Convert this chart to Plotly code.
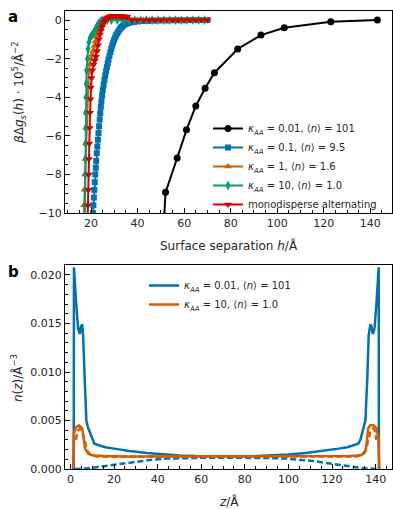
import plotly.graph_objects as go

# ---- panel a: free energy vs surface separation ----
h_k001 = [49.0, 52.0, 57.0, 61.0, 65.0, 69.0, 73.0, 83.0, 93.0, 103.0, 123.0, 143.0]
g_k001 = [-15.5, -8.93, -7.15, -5.69, -4.45, -3.53, -2.73, -1.50, -0.78, -0.40, -0.09, 0.0]

h_k01 = [20.6, 20.8, 21.0, 21.2, 21.4, 21.6, 21.8, 22.0, 22.2, 22.45, 22.7, 22.95, 23.2, 23.45,
         23.7, 23.95, 24.2, 24.45, 24.75, 25.05, 25.4, 25.75, 26.1, 26.45, 26.8, 27.15, 27.5,
         27.9, 28.3, 28.7, 29.1, 29.5, 29.9, 30.35, 30.8, 31.3, 31.8, 32.3, 32.8, 33.3, 33.8,
         34.4, 35.0, 35.7, 36.5, 37.5, 38.5, 40.0, 42.5, 45.0, 47.5, 50.0, 52.5, 55.0, 57.5,
         60.0, 62.5, 65.0, 67.5, 70.0]
g_k01 = [-10.4, -10.0, -9.6, -9.2, -8.8, -8.4, -8.0, -7.65, -7.3, -6.9, -6.55, -6.2, -5.85, -5.5,
         -5.15, -4.82, -4.5, -4.2, -3.9, -3.62, -3.35, -3.1, -2.87, -2.65, -2.44, -2.24, -2.05,
         -1.85, -1.66, -1.48, -1.32, -1.17, -1.03, -0.90, -0.78, -0.67, -0.57, -0.48, -0.40,
         -0.34, -0.28, -0.23, -0.19, -0.16, -0.13, -0.11, -0.09, -0.07, -0.05, -0.04, -0.03,
         -0.02, -0.02, -0.01, -0.01, -0.01, 0.0, 0.0, 0.0, 0.0]

h_k1 = [16.8, 17.0, 17.2, 17.4, 17.6, 17.8, 18.0, 18.2, 18.4, 18.7, 19.0, 19.4, 19.9, 20.4,
        20.9, 21.4, 21.9, 22.4, 22.9, 23.4, 23.9, 24.4, 24.9, 25.5, 26.5, 27.5, 28.5, 30.0,
        32.5, 35.0, 37.5, 40.0, 42.5, 45.0, 47.5, 50.0, 52.5, 55.0, 57.5, 60.0, 62.5, 65.0,
        67.5, 70.0]
g_k1 = [-10.4, -9.6, -8.8, -8.0, -7.2, -6.4, -5.6, -4.8, -4.0, -3.3, -2.7, -2.3, -2.0, -1.8,
        -1.6, -1.35, -1.1, -0.85, -0.62, -0.42, -0.27, -0.15, -0.06, 0.0, 0.03, 0.04, 0.04,
        0.03, 0.02, 0.01, 0.0, 0.0, 0.0, 0.0, 0.0, 0.0, 0.0, 0.0, 0.0, 0.0, 0.0, 0.0, 0.0, 0.0]

h_k10 = [17.3, 17.35, 17.4, 17.45, 17.5, 17.6, 17.65, 17.7, 17.8, 17.9, 18.1, 18.4, 18.7, 19.1,
         19.5, 19.9, 20.3, 20.7, 21.1, 21.5, 22.0, 22.5, 23.0, 23.5, 24.0, 24.5, 25.0, 26.0,
         27.0, 28.75, 31.25, 33.75, 36.25, 38.75, 41.25, 43.75, 46.25, 48.75, 51.25, 53.75,
         56.25, 58.75, 61.25, 63.75, 66.25, 68.75]
g_k10 = [-10.4, -9.6, -8.8, -8.0, -7.2, -6.4, -5.6, -4.8, -4.0, -3.3, -2.6, -2.0, -1.5, -1.15,
         -0.95, -0.85, -0.8, -0.75, -0.68, -0.58, -0.45, -0.33, -0.23, -0.15, -0.09, -0.05,
         -0.02, 0.0, 0.0, 0.0, 0.0, 0.0, 0.0, 0.0, 0.0, 0.0, 0.0, 0.0, 0.0, 0.0, 0.0, 0.0,
         0.0, 0.0, 0.0, 0.0]

h_mono = [18.5, 18.7, 18.85, 19.0, 19.1, 19.25, 19.4, 19.55, 19.7, 19.9, 20.2, 20.6, 21.1, 21.6,
          22.1, 22.6, 23.0, 23.4, 23.8, 24.2, 24.6, 25.0, 25.5, 26.0, 26.5, 27.0, 27.5, 28.0,
          28.5, 29.0, 29.5, 30.0, 30.5, 31.0, 31.5, 32.0, 32.5, 33.0, 33.5, 34.0, 34.5, 35.0,
          35.5, 37.5, 40.0, 42.5, 45.0, 47.5, 50.0, 52.5, 55.0, 57.5, 60.0, 62.5, 65.0, 67.5,
          70.0]
g_mono = [-10.4, -9.6, -8.8, -8.0, -7.2, -6.4, -5.6, -4.8, -4.1, -3.5, -3.0, -2.6, -2.3, -2.1,
          -1.9, -1.6, -1.3, -1.0, -0.75, -0.55, -0.38, -0.25, -0.12, -0.02, 0.06, 0.11, 0.15,
          0.18, 0.20, 0.21, 0.22, 0.22, 0.22, 0.22, 0.21, 0.21, 0.20, 0.20, 0.19, 0.19, 0.18,
          0.18, 0.17, 0.0, 0.0, 0.0, 0.0, 0.0, 0.0, 0.0, 0.0, 0.0, 0.0, 0.0, 0.0, 0.0, 0.0]

# ---- panel b: density profiles ----
z_b1 = [1.5, 1.6, 2.5, 3.5, 4.3, 4.8, 5.4, 5.8, 6.5, 7.3, 8.0, 9.0, 10.0, 11.0, 13.0, 16.0,
        20.0, 27.0, 35.0, 43.0, 50.0, 58.0, 65.0, 71.5, 78.0, 85.0, 93.0, 100.0, 108.0, 116.0,
        123.0, 127.0, 130.0, 132.0, 133.0, 133.7, 134.5, 135.3, 136.2, 136.8, 137.6, 138.1,
        138.7, 139.5, 140.5, 141.4, 141.5]
n_b1 = [0.0, 0.0208, 0.0175, 0.0145, 0.0139, 0.0147, 0.0149, 0.0138, 0.0095, 0.0050, 0.0043,
        0.0037, 0.0030, 0.0026, 0.00245, 0.00225, 0.0021, 0.00185, 0.00165, 0.0015, 0.0014,
        0.00133, 0.0013, 0.00128, 0.0013, 0.00133, 0.0014, 0.0015, 0.00165, 0.00185, 0.0021,
        0.00225, 0.00245, 0.0026, 0.0030, 0.0037, 0.0043, 0.0050, 0.0095, 0.0138, 0.0149,
        0.0147, 0.0139, 0.0145, 0.0175, 0.0208, 0.0]

z_b1d = [2.0, 8.0, 14.0, 19.0, 25.0, 31.5, 38.0, 44.0, 50.0, 57.0, 64.0, 71.5, 79.0, 86.0,
         93.0, 99.0, 105.0, 111.5, 118.0, 124.0, 129.0, 135.0, 141.0]
n_b1d = [0.0, 0.00007, 0.00025, 0.0004, 0.0006, 0.00082, 0.00097, 0.00107, 0.00112, 0.00115,
         0.00117, 0.00117, 0.00117, 0.00115, 0.00112, 0.00107, 0.00097, 0.00082, 0.0006,
         0.0004, 0.00025, 0.00007, 0.0]

z_b10 = [1.2, 1.55, 2.5, 3.9, 5.4, 6.7, 8.2, 9.5, 11.3, 15.0, 25.0, 40.0, 55.0, 71.5, 88.0,
         103.0, 118.0, 128.0, 131.7, 133.4, 134.6, 135.4, 136.0, 136.6, 137.5, 138.9, 140.4,
         141.3, 141.7]
n_b10 = [0.0, 0.0036, 0.0043, 0.0045, 0.0042, 0.0021, 0.00158, 0.00145, 0.0014, 0.00135,
         0.0013, 0.0013, 0.0013, 0.0013, 0.0013, 0.0013, 0.0013, 0.00135, 0.0014, 0.00145,
         0.0016, 0.0019, 0.0030, 0.0042, 0.0045, 0.0045, 0.0042, 0.0030, 0.0]

z_b10d = [2.5, 3.2, 4.3, 5.3, 6.3, 7.2, 8.2, 9.5, 12.0, 20.0, 40.0, 71.5, 103.0, 123.0, 131.0,
          133.5, 134.8, 135.8, 136.8, 137.8, 138.9, 139.7, 140.3]
n_b10d = [0.0030, 0.0039, 0.0042, 0.0040, 0.0032, 0.0022, 0.0017, 0.00145, 0.0013, 0.00126,
          0.00125, 0.00125, 0.00125, 0.00126, 0.0013, 0.00145, 0.0017, 0.0022, 0.0032, 0.0040,
          0.0042, 0.0039, 0.0030]

W, H = 393, 509
L, R, T, B = 65, 1, 11, 40
pw, ph = W - L - R, H - T - B


def px(x):
    return (x - L) / pw


def py(y):
    return (H - B - y) / ph


TXT = "#262626"
FONT = "DejaVu Sans"

fig = go.Figure()

series_a = [
    (h_k001, g_k001, "black", "circle", 7, "<i>κ</i><sub><i>AA</i></sub> = 0.01, ⟨<i>n</i>⟩ = 101"),
    (h_k01, g_k01, "#0072b2", "square", 6, "<i>κ</i><sub><i>AA</i></sub> = 0.1, ⟨<i>n</i>⟩ = 9.5"),
    (h_k1, g_k1, "#d55e00", "triangle-up", 7, "<i>κ</i><sub><i>AA</i></sub> = 1, ⟨<i>n</i>⟩ = 1.6"),
    (h_k10, g_k10, "#009e73", "diamond-tall", 7, "<i>κ</i><sub><i>AA</i></sub> = 10, ⟨<i>n</i>⟩ = 1.0"),
    (h_mono, g_mono, "#d40000", "triangle-down", 7, "monodisperse alternating"),
]
for hx, gy, col, sym, ms, name in series_a:
    fig.add_trace(go.Scatter(
        x=hx, y=gy, mode="lines+markers", name=name,
        line=dict(color=col, width=2),
        marker=dict(color=col, symbol=sym, size=ms, line=dict(width=0)),
        xaxis="x", yaxis="y", legend="legend",
    ))

fig.add_trace(go.Scatter(x=z_b1, y=n_b1, mode="lines", line=dict(color="#0072b2", width=2.5),
                         name="<i>κ</i><sub><i>AA</i></sub> = 0.01, ⟨<i>n</i>⟩ = 101",
                         xaxis="x2", yaxis="y2", legend="legend2"))
fig.add_trace(go.Scatter(x=z_b10, y=n_b10, mode="lines", line=dict(color="#d55e00", width=2.5),
                         name="<i>κ</i><sub><i>AA</i></sub> = 10, ⟨<i>n</i>⟩ = 1.0",
                         xaxis="x2", yaxis="y2", legend="legend2"))
fig.add_trace(go.Scatter(x=z_b1d, y=n_b1d, mode="lines", showlegend=False,
                         line=dict(color="#0072b2", width=2.5, dash="6px,3px"),
                         xaxis="x2", yaxis="y2"))
fig.add_trace(go.Scatter(x=z_b10d, y=n_b10d, mode="lines", showlegend=False,
                         line=dict(color="#d55e00", width=2.5, dash="6px,3px"),
                         xaxis="x2", yaxis="y2"))

ax = dict(showline=True, mirror=True, linecolor="black", linewidth=1, showgrid=False,
          zeroline=False, ticks="inside", ticklen=5, tickwidth=1, tickcolor="black",
          tickfont=dict(size=11, color=TXT, family=FONT))

fig.update_layout(
    width=W, height=H,
    margin=dict(l=L, r=R, t=T, b=B),
    paper_bgcolor="white", plot_bgcolor="white",
    font=dict(family=FONT, color=TXT, size=11),
    xaxis=dict(ax, domain=[0, 1], anchor="y", range=[8.8, 149.3], tickvals=[20, 40, 60, 80, 100, 120, 140],
               minor=dict(ticks="inside", dtick=5, ticklen=3, tickcolor="black")),
    yaxis=dict(ax, domain=[py(213), 1], anchor="x", range=[-10, 0.47], tickvals=[-10, -8, -6, -4, -2, 0],
               minor=dict(ticks="inside", dtick=0.5, ticklen=3, tickcolor="black")),
    xaxis2=dict(ax, domain=[0, 1], anchor="y2", range=[-2.5, 147.5], tickvals=[0, 20, 40, 60, 80, 100, 120, 140],
                minor=dict(ticks="inside", dtick=5, ticklen=3, tickcolor="black")),
    yaxis2=dict(ax, domain=[0, py(265)], anchor="x2", range=[0, 0.02103],
                tickvals=[0, 0.005, 0.01, 0.015, 0.02], tickformat=".3f",
                minor=dict(ticks="inside", dtick=0.001, ticklen=3, tickcolor="black")),
    legend=dict(x=px(208), y=py(114), xanchor="left", yanchor="top", bgcolor="rgba(0,0,0,0)",
                font=dict(size=10, color=TXT, family=FONT)),
    legend2=dict(x=px(144), y=py(271), xanchor="left", yanchor="top", bgcolor="rgba(0,0,0,0)",
                 font=dict(size=10, color=TXT, family=FONT)),
)

annots = [
    dict(x=px(13), y=py(17), text="<b>a</b>", font=dict(size=15, color="black")),
    dict(x=px(13), y=py(272), text="<b>b</b>", font=dict(size=15, color="black")),
    dict(x=px(19), y=py(93), text="<i>β</i>Δ<i>g</i><sub><i>s</i></sub>(<i>h</i>) · 10<sup>5</sup>/Å<sup>−2</sup>",
         textangle=-90, font=dict(size=12)),
    dict(x=px(229), y=py(246), text="Surface separation <i>h</i>/Å", font=dict(size=12)),
    dict(x=px(17), y=py(378), text="<i>n</i>(<i>z</i>)/Å<sup>−3</sup>", textangle=-90, font=dict(size=12)),
    dict(x=px(229), y=py(501), text="<i>z</i>/Å", font=dict(size=12)),
]
for a in annots:
    fig.add_annotation(xref="paper", yref="paper", showarrow=False, xanchor="center", yanchor="middle", **a)

fig.write_html("out.html", config={"displayModeBar": False},
               post_script="document.body.style.margin='0';document.body.style.overflow='hidden';")
